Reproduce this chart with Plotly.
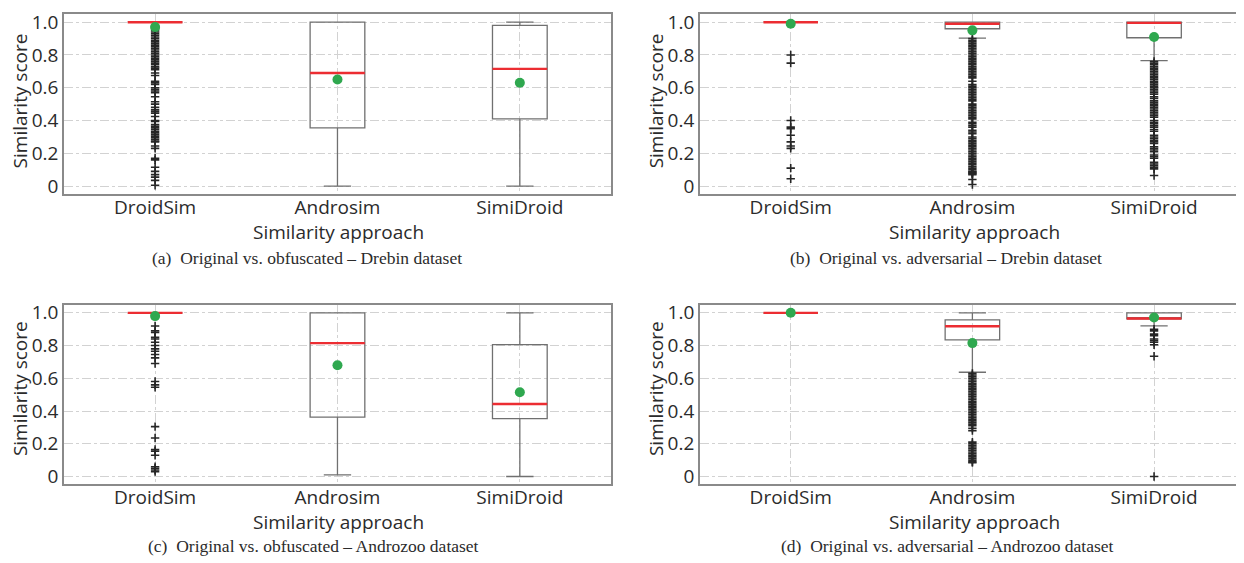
import plotly.graph_objects as go

# page body has an 8px default margin; the figure is laid out in reference
# pixel coordinates shifted by OFF
OFF = 8
W, H = 1244 - OFF, 563 - OFF

categories = ["DroidSim", "Androsim", "SimiDroid"]
tick_vals = [0, 0.2, 0.4, 0.6, 0.8, 1.0]
tick_text = ["0", "0.2", "0.4", "0.6", "0.8", "1.0"]

captions = [
    "(a)  Original vs. obfuscated \u2013 Drebin dataset",
    "(b)  Original vs. adversarial \u2013 Drebin dataset",
    "(c)  Original vs. obfuscated \u2013 Androzoo dataset",
    "(d)  Original vs. adversarial \u2013 Androzoo dataset",
]

# ---- panel (a): Original vs. obfuscated, Drebin
a_q1 = [1.0, 0.355, 0.41]
a_median = [1.0, 0.69, 0.715]
a_q3 = [1.0, 1.0, 0.98]
a_low = [1.0, 0.0, 0.0]
a_high = [1.0, 1.0, 1.0]
a_mean = [0.97, 0.65, 0.63]
a_out_droidsim = [0.97, 0.96, 0.95, 0.94, 0.93, 0.92, 0.91, 0.90, 0.89, 0.88, 0.87, 0.86,
                  0.85, 0.84, 0.83, 0.82, 0.81, 0.80, 0.79, 0.78, 0.77, 0.76, 0.75, 0.74,
                  0.728, 0.72, 0.71, 0.69, 0.675, 0.64, 0.63, 0.62, 0.60, 0.59, 0.58, 0.57,
                  0.545, 0.515, 0.50, 0.48, 0.465, 0.455, 0.445, 0.425, 0.40, 0.395, 0.375,
                  0.365, 0.355, 0.345, 0.335, 0.325, 0.315, 0.305, 0.295, 0.285, 0.275, 0.27,
                  0.245, 0.23, 0.17, 0.16, 0.115, 0.09, 0.07, 0.055, 0.035, 0.005]
a_out_androsim = []
a_out_simidroid = []

# ---- panel (b): Original vs. adversarial, Drebin
b_q1 = [1.0, 0.96, 0.905]
b_median = [1.0, 0.99, 0.996]
b_q3 = [1.0, 1.0, 1.0]
b_low = [1.0, 0.903, 0.765]
b_high = [1.0, 1.0, 1.0]
b_mean = [0.99, 0.95, 0.91]
b_out_droidsim = [0.80, 0.75, 0.40, 0.36, 0.35, 0.31, 0.27, 0.245, 0.23, 0.11, 0.045]
b_out_androsim = [0.90, 0.89, 0.88, 0.87, 0.86, 0.85, 0.84, 0.83, 0.82, 0.81, 0.80, 0.79,
                  0.78, 0.77, 0.76, 0.75, 0.74, 0.73, 0.72, 0.71, 0.70, 0.69, 0.68, 0.67,
                  0.66, 0.64, 0.62, 0.61, 0.60, 0.59, 0.58, 0.57, 0.56, 0.55, 0.54, 0.53,
                  0.52, 0.50, 0.49, 0.48, 0.47, 0.46, 0.45, 0.44, 0.43, 0.42, 0.41, 0.39,
                  0.38, 0.37, 0.36, 0.34, 0.33, 0.32, 0.30, 0.29, 0.28, 0.27, 0.26, 0.25,
                  0.24, 0.23, 0.22, 0.21, 0.20, 0.19, 0.18, 0.17, 0.16, 0.15, 0.14, 0.13,
                  0.12, 0.11, 0.10, 0.09, 0.085, 0.08, 0.075, 0.07, 0.04, 0.01]
b_out_simidroid = [0.76, 0.75, 0.74, 0.73, 0.72, 0.71, 0.70, 0.69, 0.68, 0.67, 0.66, 0.65,
                   0.64, 0.63, 0.62, 0.61, 0.60, 0.59, 0.58, 0.57, 0.56, 0.545, 0.535,
                   0.52, 0.51, 0.50, 0.49, 0.48, 0.47, 0.46, 0.45, 0.44, 0.43, 0.42,
                   0.40, 0.39, 0.38, 0.37, 0.36, 0.345, 0.335, 0.31, 0.30, 0.29, 0.28,
                   0.27, 0.26, 0.24, 0.23, 0.22, 0.21, 0.19, 0.18, 0.17, 0.145, 0.135,
                   0.125, 0.115, 0.105, 0.065]

# ---- panel (c): Original vs. obfuscated, Androzoo
c_q1 = [1.0, 0.363, 0.353]
c_median = [1.0, 0.815, 0.443]
c_q3 = [1.0, 1.0, 0.806]
c_low = [1.0, 0.01, 0.0]
c_high = [1.0, 1.0, 1.0]
c_mean = [0.98, 0.68, 0.515]
c_out_droidsim = [0.92, 0.89, 0.88, 0.85, 0.84, 0.82, 0.80, 0.78, 0.765, 0.745, 0.725, 0.69,
                  0.58, 0.56, 0.545, 0.305, 0.235, 0.165, 0.155, 0.13, 0.06, 0.05, 0.04, 0.03]
c_out_androsim = []
c_out_simidroid = []

# ---- panel (d): Original vs. adversarial, Androzoo
d_q1 = [1.0, 0.835, 0.964]
d_median = [1.0, 0.918, 0.965]
d_q3 = [1.0, 0.957, 1.0]
d_low = [1.0, 0.637, 0.92]
d_high = [1.0, 1.0, 1.0]
d_mean = [1.0, 0.815, 0.972]
d_out_droidsim = []
d_out_androsim = [0.63, 0.62, 0.61, 0.60, 0.59, 0.58, 0.57, 0.56, 0.55, 0.54, 0.53, 0.52,
                  0.51, 0.50, 0.49, 0.48, 0.47, 0.46, 0.45, 0.44, 0.43, 0.42, 0.41, 0.40,
                  0.39, 0.38, 0.37, 0.36, 0.35, 0.34, 0.33, 0.32, 0.31, 0.295, 0.28,
                  0.21, 0.20, 0.19, 0.18, 0.17, 0.16, 0.15, 0.14, 0.13, 0.12, 0.11, 0.10,
                  0.09, 0.085]
d_out_simidroid = [0.90, 0.89, 0.87, 0.86, 0.84, 0.83, 0.82, 0.805, 0.735, 0.0]

panels = [
    (a_q1, a_median, a_q3, a_low, a_high, a_mean, [a_out_droidsim, a_out_androsim, a_out_simidroid]),
    (b_q1, b_median, b_q3, b_low, b_high, b_mean, [b_out_droidsim, b_out_androsim, b_out_simidroid]),
    (c_q1, c_median, c_q3, c_low, c_high, c_mean, [c_out_droidsim, c_out_androsim, c_out_simidroid]),
    (d_q1, d_median, d_q3, d_low, d_high, d_mean, [d_out_droidsim, d_out_androsim, d_out_simidroid]),
]

BOX_GRAY = "#707070"
RED = "#ec2d32"
GREEN = "#2fa84f"
FLIER = "#262626"
TEXT = "#2b2b2b"
TICKFONT = dict(family="Open Sans", size=19, color=TEXT)

fig = go.Figure()

for i, (q1, med, q3, lo, hi, mn, outs) in enumerate(panels):
    k = "" if i == 0 else str(i + 1)
    xa, ya = "x" + k, "y" + k
    fig.add_trace(go.Box(
        x=categories, q1=q1, median=med, q3=q3, lowerfence=lo, upperfence=hi,
        xaxis=xa, yaxis=ya, width=0.3, whiskerwidth=0.5, boxpoints=False,
        line=dict(color=BOX_GRAY, width=1.3), fillcolor="rgba(0,0,0,0)",
        showlegend=False, hoverinfo="skip"))
    # red median lines
    fig.add_trace(go.Box(
        x=categories, q1=med, median=med, q3=med, lowerfence=med, upperfence=med,
        xaxis=xa, yaxis=ya, width=0.3, whiskerwidth=0, boxpoints=False,
        line=dict(color=RED, width=2.4), fillcolor="rgba(0,0,0,0)",
        showlegend=False, hoverinfo="skip"))

for i, (q1, med, q3, lo, hi, mn, outs) in enumerate(panels):
    k = "" if i == 0 else str(i + 1)
    xa, ya = "x" + k, "y" + k
    ox, oy = [], []
    for cat, vals in zip(categories, outs):
        ox += [cat] * len(vals)
        oy += vals
    fig.add_trace(go.Scatter(
        x=ox, y=oy, mode="markers", xaxis=xa, yaxis=ya,
        marker=dict(symbol="cross-thin", size=6, line=dict(color=FLIER, width=1.6)),
        showlegend=False, hoverinfo="skip"))
    fig.add_trace(go.Scatter(
        x=categories, y=mn, mode="markers", xaxis=xa, yaxis=ya,
        marker=dict(symbol="circle", size=10, color=GREEN),
        showlegend=False, hoverinfo="skip"))


def px_x(p):
    return (p - OFF) / W


def px_y(p):
    return 1 - (p - OFF) / H


xdom_left = [px_x(64), px_x(612)]
xdom_right = [px_x(701), 1.0]
ydom_top = [px_y(192.3), px_y(9)]
ydom_bot = [px_y(488), px_y(305)]
xr_left = [-0.5, 2.5]
xr_right = [-0.5, 2.484]
yr = [-0.048, 1.05]

doms = [(xdom_left, ydom_top, xr_left), (xdom_right, ydom_top, xr_right),
        (xdom_left, ydom_bot, xr_left), (xdom_right, ydom_bot, xr_right)]

layout = dict(width=W, height=H, margin=dict(l=0, r=0, t=0, b=0),
              paper_bgcolor="white", plot_bgcolor="white", boxmode="overlay",
              font=dict(family="Open Sans", color=TEXT))
for i, (xd, yd, xr) in enumerate(doms):
    k = "" if i == 0 else str(i + 1)
    layout["xaxis" + k] = dict(
        domain=xd, range=xr, anchor="y" + k, type="category",
        categoryorder="array", categoryarray=categories,
        showline=True, mirror=True, linecolor="#8a8a8a", linewidth=1.5,
        showgrid=True, gridcolor="#d2d2d2", griddash="dashdot", gridwidth=1,
        ticks="", tickfont=TICKFONT, zeroline=False, fixedrange=True,
        ticklabelstandoff=-5)
    layout["yaxis" + k] = dict(
        domain=yd, range=yr, anchor="x" + k,
        tickvals=tick_vals, ticktext=tick_text,
        showline=True, mirror=True, linecolor="#8a8a8a", linewidth=1.5,
        showgrid=True, gridcolor="#d2d2d2", griddash="dashdot", gridwidth=1,
        ticks="", tickfont=TICKFONT, zeroline=False, fixedrange=True)

annotations = []
ylabel_pos = [(20, 97), (657, 97), (20, 390), (657, 390)]
xlabel_pos = [(339, 231), (976, 231), (339, 526), (976, 526)]
caption_pos = [(307, 258), (948, 258), (314, 551), (949, 551)]
for i in range(4):
    px, py = ylabel_pos[i]
    annotations.append(dict(text="Similarity score", x=px_x(px), y=px_y(py), xref="paper", yref="paper",
                            xanchor="center", yanchor="middle", textangle=-90, showarrow=False,
                            font=dict(family="Open Sans", size=19, color=TEXT)))
    px, py = xlabel_pos[i]
    annotations.append(dict(text="Similarity approach", x=px_x(px), y=px_y(py), xref="paper", yref="paper",
                            xanchor="center", yanchor="middle", showarrow=False,
                            font=dict(family="Open Sans", size=19, color=TEXT)))
    px, py = caption_pos[i]
    annotations.append(dict(text=captions[i], x=px_x(px), y=px_y(py), xref="paper", yref="paper",
                            xanchor="center", yanchor="middle", showarrow=False,
                            font=dict(family="Liberation Serif", size=17.5, color=TEXT)))
layout["annotations"] = annotations

fig.update_layout(**layout)
fig.write_html("out.html")
